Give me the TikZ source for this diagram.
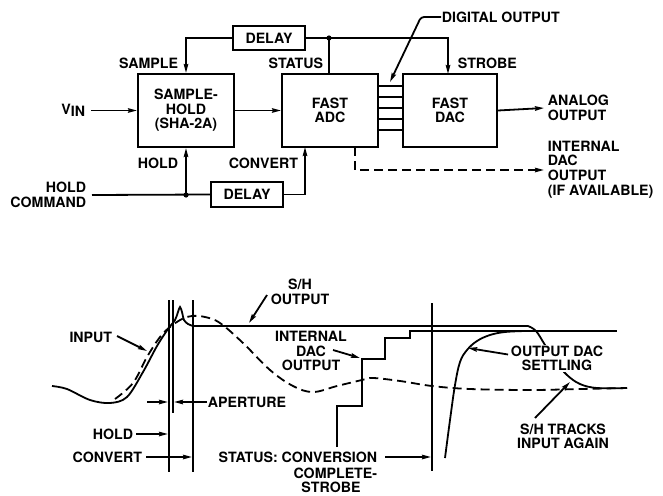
\documentclass[tikz,border=0pt]{standalone}
\usepackage{fontspec}
\setmainfont{TeX Gyre Heros}
\usetikzlibrary{arrows.meta}
\begin{document}
\begin{tikzpicture}[x=1pt,y=-1pt,line width=1.8pt,
  arr/.style={-{Stealth[length=9pt,width=4.5pt,inset=1pt]}},
  blk/.style={draw,line width=2pt,inner sep=0pt,align=center},
  lbl/.style={inner sep=0pt,font=\fontsize{14.2}{14.6}\selectfont\bfseries},
  wlbl/.style={lbl,fill=white,inner sep=1pt},
  dsh/.style={dash pattern=on 9pt off 5pt}]
\useasboundingbox (0,0) rectangle (663,495);
% ---------- block diagram ----------
\node[blk,lbl,minimum width=96pt,minimum height=73pt] (sh) at (186,110.5) {SAMPLE-\\HOLD\\(SHA-2A)};
\node[blk,lbl,minimum width=96pt,minimum height=73pt] (adc) at (330,110.5) {FAST\\ADC};
\node[blk,lbl,minimum width=94pt,minimum height=73pt] (dac) at (450,110.5) {FAST\\DAC};
\node[blk,lbl,minimum width=72pt,minimum height=24pt] (dtop) at (269,38) {DELAY};
\node[blk,lbl,minimum width=72pt,minimum height=25pt] (dbot) at (247,194.5) {DELAY};
\node[lbl,anchor=east] (vin) at (86,110.5) {V\raisebox{-2.5pt}{IN}};
\node[lbl,anchor=east] (lsample) at (179,63) {SAMPLE};
\node[lbl,anchor=east] (lstatus) at (324,63) {STATUS};
\node[lbl,anchor=west] (lstrobe) at (457,63) {STROBE};
\node[lbl,anchor=east] (lhold) at (179,163) {HOLD};
\node[lbl,anchor=east] (lconv) at (299,163) {CONVERT};
\node[lbl,anchor=east,align=right] (hc) at (87,195) {HOLD\\COMMAND};
\node[lbl,anchor=west,align=left] (aout) at (547,108) {ANALOG\\OUTPUT};
\node[lbl,anchor=west,align=left] (iout) at (547,169.5) {INTERNAL\\DAC\\OUTPUT\\(IF AVAILABLE)};
\node[lbl,anchor=west] (dig) at (441,17) {DIGITAL OUTPUT};
\coordinate (vins) at (91,110.5);
\draw[arr] (vins) -- (sh.west);
\draw[arr] (sh.east) -- (adc.west);
\draw[arr] (dac.east) -- ([xshift=-3pt]aout.west);
\foreach \yy in {86,97,108,119,130}
  \draw[line width=1.5pt] (adc.east |- 0,\yy) -- (dac.west |- 0,\yy);
\draw[arr] (dtop.west) -| (sh.north);
\coordinate (stb) at (448,74);
\draw[arr] (dtop.east) -| (stb);
\coordinate (jn) at (329,38);
\draw (adc.north -| jn) -- (jn);
\fill (jn) circle[radius=2.6pt];
\coordinate (hcs) at (92,195);
\coordinate (hj) at (186,195);
\draw (hcs) -- (dbot.west);
\draw[arr] (hj) -- (sh.south);
\fill (hj) circle[radius=2.6pt];
\coordinate (cv) at (305,147);
\draw[arr] (dbot.east) -| (cv);
\coordinate (dd) at (355,147);
\coordinate (ie) at (544,170);
\draw[arr,dsh] (dd) |- (ie);
\coordinate (digt) at (390,82);
\draw[arr,rounded corners=3pt] (dig.west) -- ++(-20,0) -- (digt);
% ---------- waveforms ----------
\draw (169,300) -- (169,472);
\draw[line width=1.3pt] (173,300) -- (173,413);
\draw (193,300) -- (193,472);
\draw (432,303) -- (432,471);
% S/H output
\draw plot[smooth,tension=0.55] coordinates {(52,386) (67,389) (90,400) (110,403) (127,397) (143,372) (157,346) (168,329) (175,320) (178,312) (180,307) (182,312) (184,320) (188,324) (193,326)}
  -- (528,326);
\draw plot[smooth,tension=0.6] coordinates {(528,326) (536,331) (545,345) (556,362) (567,375) (580,384) (597,388) (627,388)};
% input (dashed)
\draw[dsh] plot[smooth,tension=0.6] coordinates {(115,399) (133,383) (147,357) (160,337) (170,327) (182,319) (192,316) (205,317) (220,323) (243,343) (270,370) (293,386) (313,392) (337,386) (362,380) (373,378) (400,381) (432,386) (470,389) (530,390) (580,389) (627,388)};
% internal DAC staircase
\draw (337,447) |- (362,406) |- (385,359) |- (410,338) |- (617,331);
% output DAC settling
\draw plot[smooth,tension=0.6] coordinates {(445,458) (450,420) (455,385) (460,362) (467,350) (477,341) (490,335) (505,332) (525,331)};
% labels
\node[lbl,align=center] (lsho) at (300,292) {S/H\\OUTPUT};
\node[lbl,anchor=east] (linput) at (113,337) {INPUT};
\node[lbl,align=center] (lidac) at (311,351) {INTERNAL\\DAC\\OUTPUT};
\node[lbl,anchor=west] (lap) at (207,402) {APERTURE};
\node[lbl,anchor=east] (lhold2) at (134,434) {HOLD};
\node[lbl,anchor=east] (lconv2) at (143,457) {CONVERT};
\node[lbl,anchor=east] (st1) at (378,457) {STATUS: CONVERSION};
\node[lbl,anchor=east] (st2) at (378,473) {COMPLETE-};
\node[lbl] (st3) at (331,487) {STROBE};
\node[wlbl,align=center] (lods) at (557,358.5) {OUTPUT DAC\\SETTLING};
\node[lbl,align=center] (ltrk) at (563,436.5) {S/H TRACKS\\INPUT AGAIN};
% label arrows
\coordinate (pin) at (147,351);
\draw[arr] (linput.east) ++(4,-1) -- (pin);
\coordinate (psh) at (249,323);
\draw[arr] (267,295) -- (psh);
\coordinate (pid) at (360,358);
\draw[arr] (333,350) -- (pid);
\coordinate (pa1) at (168,402);
\coordinate (pa2) at (174,402);
\draw[arr] (147,402) -- (pa1);
\draw[arr] (lap.west) -- (pa2);
\coordinate (ph) at (168,434);
\draw[arr] (lhold2.east) ++(2,0) -- (ph);
\coordinate (pc) at (192,457);
\draw[arr] (lconv2.east) ++(3,0) -- (pc);
\coordinate (pst) at (431,457);
\draw[arr] (st1.east) ++(7,0) -- (pst);
\coordinate (pds) at (468,348);
\draw[arr] (lods.west) ++(-1,-4) -- (pds);
\coordinate (ptr) at (570,382);
\draw[arr] (535,418) -- (ptr);
\end{tikzpicture}
\end{document}
